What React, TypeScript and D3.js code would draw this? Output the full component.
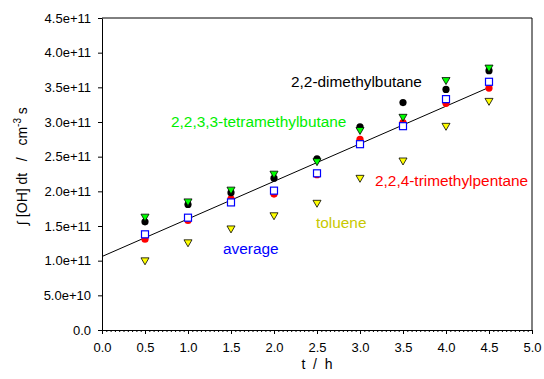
import React, { useEffect, useRef } from "react";
import * as d3 from "d3";

const times = [0.5, 1.0, 1.5, 2.0, 2.5, 3.0, 3.5, 4.0, 4.5];
const dimethylbutane = [1.56e11, 1.81e11, 1.98e11, 2.19e11, 2.47e11, 2.93e11, 3.28e11, 3.47e11, 3.74e11];
const tetramethylbutane = [1.63e11, 1.85e11, 2.02e11, 2.25e11, 2.43e11, 2.88e11, 3.07e11, 3.60e11, 3.78e11];
const trimethylpentane = [1.31e11, 1.58e11, 1.89e11, 1.96e11, 2.24e11, 2.75e11, 2.99e11, 3.27e11, 3.49e11];
const toluene = [1.0e11, 1.26e11, 1.46e11, 1.65e11, 1.83e11, 2.19e11, 2.44e11, 2.94e11, 3.30e11];
const average = [1.38e11, 1.62e11, 1.84e11, 2.01e11, 2.26e11, 2.68e11, 2.94e11, 3.33e11, 3.58e11];
const fitIntercept = 1.06e11;
const fitSlope = 0.542e11;
const fitRange = [0, 4.5];
const xTicks = [0, 0.5, 1, 1.5, 2, 2.5, 3, 3.5, 4, 4.5, 5];
const yTicks = [0, 0.5e11, 1e11, 1.5e11, 2e11, 2.5e11, 3e11, 3.5e11, 4e11, 4.5e11];

export default function App() {
    const svgRef = useRef<SVGSVGElement>(null);

    useEffect(() => {
        const width = 544, height = 379;
        const left = 102, right = 532, top = 18, bottom = 330;
        const svg = d3.select(svgRef.current);
        svg.selectAll("*").remove();
        svg.attr("width", width).attr("height", height);
        const font = "Liberation Sans, Arial, sans-serif";

        const x = d3.scaleLinear().domain([0, 5]).range([left, right]);
        const y = d3.scaleLinear().domain([0, 4.5e11]).range([bottom, top]);

        // frame (top + right)
        svg.append("path")
            .attr("d", `M${left},${top}H${right}V${bottom}`)
            .attr("fill", "none").attr("stroke", "#000");

        // minor x ticks
        const minor = d3.range(0, 5.0001, 0.05);
        svg.append("g")
            .attr("transform", `translate(0,${bottom})`)
            .call(d3.axisBottom(x).tickValues(minor).tickSize(2).tickFormat(() => ""))
            .call(g => g.select(".domain").remove());

        const xAxis = svg.append("g")
            .attr("transform", `translate(0,${bottom})`)
            .call(d3.axisBottom(x).tickValues(xTicks).tickSize(4).tickSizeOuter(0).tickPadding(9)
                .tickFormat(d => d3.format(".1f")(d as number)));
        xAxis.selectAll("text").attr("font-size", "13px").attr("font-family", font).attr("fill", "#000");

        const yAxis = svg.append("g")
            .attr("transform", `translate(${left},0)`)
            .call(d3.axisLeft(y).tickValues(yTicks).tickSize(4).tickSizeOuter(0).tickPadding(7)
                .tickFormat(d => (d as number) === 0 ? "0.0" : d3.format(".1e")(d as number)));
        yAxis.selectAll("text").attr("font-size", "13px").attr("font-family", font).attr("fill", "#000");

        // regression line
        svg.append("line")
            .attr("x1", x(fitRange[0])).attr("y1", y(fitIntercept + fitSlope * fitRange[0]))
            .attr("x2", x(fitRange[1])).attr("y2", y(fitIntercept + fitSlope * fitRange[1]))
            .attr("stroke", "#000").attr("stroke-width", 1);

        const tri = d3.symbol().type(d3.symbolTriangle).size(28);

        const circles = (vals: number[], fill: string) =>
            svg.append("g").selectAll("circle").data(vals).join("circle")
                .attr("cx", (_, i) => x(times[i])).attr("cy", d => y(d))
                .attr("r", 3.6).attr("fill", fill);

        const triangles = (vals: number[], fill: string) =>
            svg.append("g").selectAll("path").data(vals).join("path")
                .attr("d", tri)
                .attr("transform", (d, i) => `translate(${x(times[i])},${y(d) - 0.5}) rotate(180)`)
                .attr("fill", fill).attr("stroke", "#000").attr("stroke-width", 0.8);

        circles(trimethylpentane, "#ff0000");
        circles(dimethylbutane, "#000000");
        triangles(tetramethylbutane, "#00ff00");

        svg.append("g").selectAll("rect").data(average).join("rect")
            .attr("x", (_, i) => x(times[i]) - 3.5).attr("y", d => y(d) - 3.5)
            .attr("width", 7).attr("height", 7)
            .attr("fill", "#fff").attr("stroke", "#0000ff").attr("stroke-width", 1.2);

        triangles(toluene, "#ffff00");

        const labels = [
            { text: "2,2-dimethylbutane", x: 291, y: 87, color: "#000" },
            { text: "2,2,3,3-tetramethylbutane", x: 171, y: 127, color: "#00ee00" },
            { text: "2,2,4-trimethylpentane", x: 375, y: 186, color: "#ff0000" },
            { text: "toluene", x: 316, y: 228, color: "#c8c800" },
            { text: "average", x: 223, y: 254, color: "#0000ff" },
        ];
        svg.append("g").selectAll("text").data(labels).join("text")
            .attr("x", d => d.x).attr("y", d => d.y)
            .attr("font-size", "15.4px").attr("font-family", font)
            .attr("fill", d => d.color).text(d => d.text);

        svg.append("text")
            .attr("x", 317).attr("y", 369)
            .attr("text-anchor", "middle").attr("font-size", "14px").attr("font-family", font)
            .style("white-space", "pre")
            .text("t  /  h");

        const yt = svg.append("text")
            .attr("transform", `translate(27,166) rotate(-90)`)
            .attr("text-anchor", "middle").attr("font-size", "14px").attr("font-family", font)
            .style("white-space", "pre");
        yt.append("tspan").text("\u222B [OH] dt   /   cm");
        yt.append("tspan").attr("dy", -6).attr("font-size", "10px").text("-3");
        yt.append("tspan").attr("dy", 6).text(" s");
    }, []);

    return <svg ref={svgRef} style={{ position: "absolute", left: 0, top: 0 }} />;
}
